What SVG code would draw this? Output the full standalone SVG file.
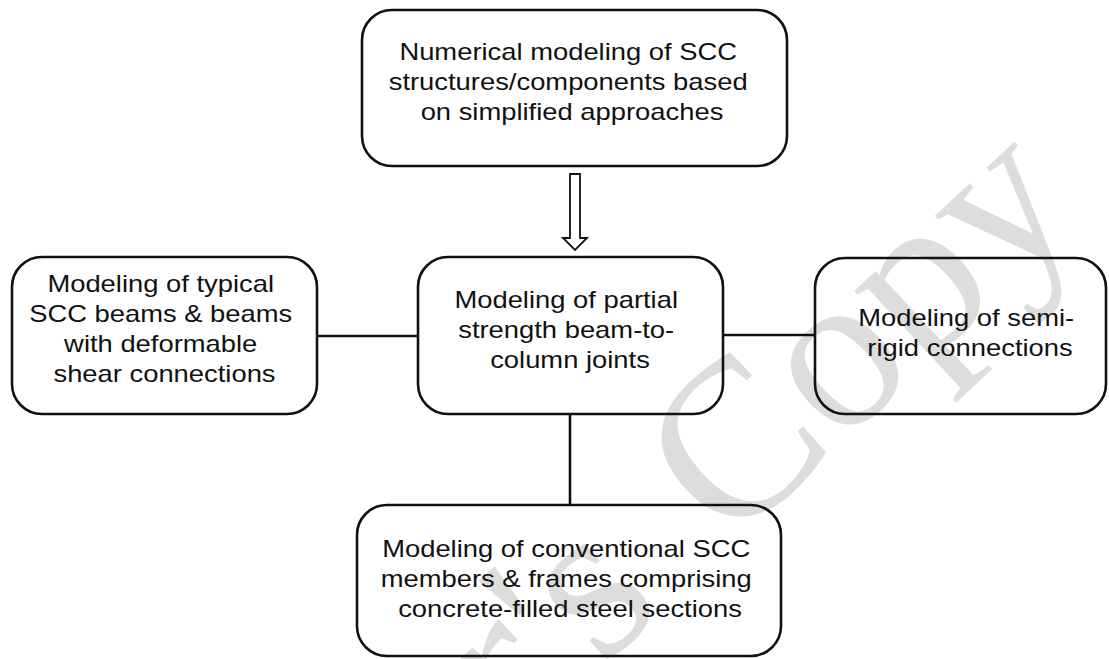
<svg xmlns="http://www.w3.org/2000/svg" width="1109" height="659" viewBox="0 0 1109 659">
  <style>
    .box { fill: none; stroke: #111; stroke-width: 2.6; }
    .lbl { font-family: "Liberation Sans", Arial, sans-serif; font-size: 23.4px; fill: #111; text-anchor: middle; }
    .wire { stroke: #111; stroke-width: 2.6; fill: none; }
    .hollow { fill: #fff; stroke: #111; stroke-width: 1.8; stroke-linejoin: miter; }
    .mark { font-family: "Liberation Serif", "Times New Roman", serif; font-size: 225px; fill: #dddddd; }
  </style>
  <rect x="0" y="0" width="1109" height="659" fill="#fff"/>

  <!-- background stamp -->
  <g id="stamp">
    <text class="mark" transform="translate(106 1130) rotate(-43)" x="0" y="0">Author's<tspan dx="30"> Copy</tspan></text>
  </g>

  <g id="connectors">
    <line class="wire" x1="317" y1="336" x2="418" y2="336"/>
    <line class="wire" x1="723" y1="335" x2="815" y2="335"/>
    <line class="wire" x1="570" y1="414" x2="570" y2="505"/>
    <polygon class="hollow" points="570,174 580,174 580,238 587,238 575,250 563,238 570,238"/>
  </g>

  <g id="node-top">
    <rect class="box" x="362" y="10" width="425" height="156" rx="30" ry="30"/>
    <text class="lbl" transform="translate(572 0) scale(1.17 1)">
      <tspan x="0" y="60.5">Numerical modeling of SCC</tspan>
      <tspan x="0" y="90.5">structures/components based</tspan>
      <tspan x="0" y="120.5">on simplified approaches</tspan>
    </text>
  </g>

  <g id="node-left">
    <rect class="box" x="12" y="257" width="305" height="157" rx="30" ry="30"/>
    <text class="lbl" transform="translate(164.5 0) scale(1.17 1)">
      <tspan x="0" y="292">Modeling of typical</tspan>
      <tspan x="0" y="322">SCC beams &amp; beams</tspan>
      <tspan x="0" y="352">with deformable</tspan>
      <tspan x="0" y="382">shear connections</tspan>
    </text>
  </g>

  <g id="node-center">
    <rect class="box" x="418" y="257" width="305" height="157" rx="30" ry="30"/>
    <text class="lbl" transform="translate(570 0) scale(1.17 1)">
      <tspan x="0" y="308">Modeling of partial</tspan>
      <tspan x="0" y="338">strength beam-to-</tspan>
      <tspan x="0" y="368">column joints</tspan>
    </text>
  </g>

  <g id="node-right">
    <rect class="box" x="815" y="258" width="291" height="156" rx="30" ry="30"/>
    <text class="lbl" transform="translate(970 0) scale(1.17 1)">
      <tspan x="0" y="326">Modeling of semi-</tspan>
      <tspan x="0" y="356">rigid connections</tspan>
    </text>
  </g>

  <g id="node-bottom">
    <rect class="box" x="357" y="505" width="424" height="151" rx="30" ry="30"/>
    <text class="lbl" transform="translate(570 0) scale(1.17 1)">
      <tspan x="0" y="557">Modeling of conventional SCC</tspan>
      <tspan x="0" y="587">members &amp; frames comprising</tspan>
      <tspan x="0" y="617">concrete-filled steel sections</tspan>
    </text>
  </g>
</svg>
